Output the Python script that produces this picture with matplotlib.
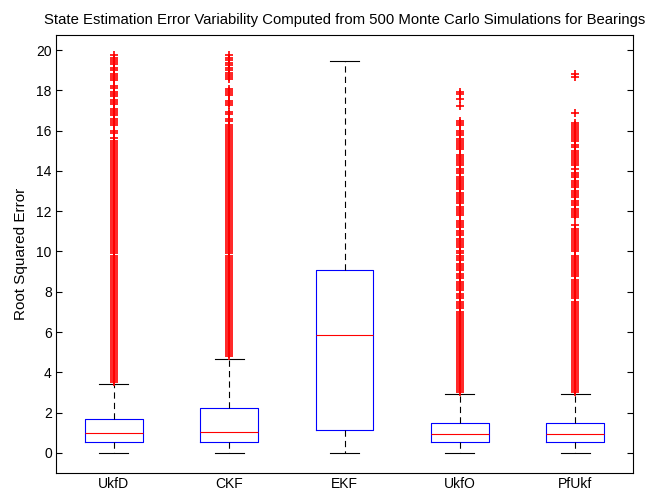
import matplotlib
matplotlib.use("Agg")
import matplotlib.pyplot as plt

# filters compared
names = ['UkfD', 'CKF', 'EKF', 'UkfO', 'PfUkf']

# box statistics
q1 = [0.55, 0.55, 1.14, 0.55, 0.55]
med = [0.98, 1.06, 5.86, 0.94, 0.94]
q3 = [1.69, 2.22, 9.08, 1.50, 1.50]
whislo = [0.0, 0.0, 0.0, 0.0, 0.0]
whishi = [3.42, 4.68, 19.45, 2.91, 2.91]

# outliers (dense parts of the columns read as continuous)
ukfd_out = [3.5, 3.6, 3.7, 3.8, 3.9, 4.0, 4.1, 4.2, 4.3, 4.4, 4.5, 4.6, 4.7, 4.8, 4.9,
            5.0, 5.1, 5.2, 5.3, 5.4, 5.5, 5.6, 5.7, 5.8, 5.9, 6.0, 6.1, 6.2, 6.3, 6.4,
            6.5, 6.6, 6.7, 6.8, 6.9, 7.0, 7.1, 7.2, 7.3, 7.4, 7.5, 7.6, 7.7, 7.8, 7.9,
            8.0, 8.1, 8.2, 8.3, 8.4, 8.5, 8.6, 8.7, 8.8, 8.9, 9.0, 9.1, 9.2, 9.3, 9.4,
            9.5, 9.6, 9.7, 9.8, 9.9, 10.0, 10.1, 10.2, 10.3, 10.4, 10.5, 10.6, 10.7, 10.8,
            10.9, 11.0, 11.1, 11.2, 11.3, 11.4, 11.5, 11.6, 11.7, 11.8, 11.9, 12.0, 12.1,
            12.2, 12.3, 12.4, 12.5, 12.6, 12.7, 12.8, 12.9, 13.0, 13.1, 13.2, 13.3, 13.4,
            13.5, 13.6, 13.7, 13.8, 13.9, 14.0, 14.1, 14.2, 14.3, 14.4, 14.5, 14.6, 14.7,
            14.8, 14.9, 15.0, 15.1, 15.2, 15.3, 15.4, 15.5,
            15.65, 15.9, 16.0, 16.3, 16.4, 16.5, 16.6, 16.8, 16.9, 17.0, 17.1, 17.3, 17.4,
            17.5, 17.7, 17.8, 17.9, 18.1, 18.2, 18.5, 18.6, 18.7, 18.8, 19.0, 19.1, 19.3,
            19.4, 19.5, 19.6, 19.75]
ckf_out = [4.8, 4.9, 5.0, 5.1, 5.2, 5.3, 5.4, 5.5, 5.6, 5.7, 5.8, 5.9, 6.0, 6.1, 6.2,
           6.3, 6.4, 6.5, 6.6, 6.7, 6.8, 6.9, 7.0, 7.1, 7.2, 7.3, 7.4, 7.5, 7.6, 7.7,
           7.8, 7.9, 8.0, 8.1, 8.2, 8.3, 8.4, 8.5, 8.6, 8.7, 8.8, 8.9, 9.0, 9.1, 9.2,
           9.3, 9.4, 9.5, 9.6, 9.7, 9.8, 9.9, 10.0, 10.1, 10.2, 10.3, 10.4, 10.5, 10.6,
           10.7, 10.8, 10.9, 11.0, 11.1, 11.2, 11.3, 11.4, 11.5, 11.6, 11.7, 11.8, 11.9,
           12.0, 12.1, 12.2, 12.3, 12.4, 12.5, 12.6, 12.7, 12.8, 12.9, 13.0, 13.1, 13.2,
           13.3, 13.4, 13.5, 13.6, 13.7, 13.8, 13.9, 14.0, 14.1, 14.2, 14.3, 14.4, 14.5,
           14.6, 14.7, 14.8, 14.9, 15.0, 15.1, 15.2, 15.3, 15.4, 15.5, 15.6, 15.7, 15.8,
           15.9, 16.0, 16.1, 16.2, 16.3,
           16.5, 16.6, 16.85, 16.95, 17.25, 17.35, 17.45, 17.75, 17.85, 17.95, 18.05,
           18.55, 18.65, 18.75, 18.85, 19.0, 19.1, 19.25, 19.35, 19.5, 19.6, 19.75]
ekf_out = []
ukfo_out = [3.0, 3.1, 3.2, 3.3, 3.4, 3.5, 3.6, 3.7, 3.8, 3.9, 4.0, 4.1, 4.2, 4.3, 4.4,
            4.5, 4.6, 4.7, 4.8, 4.9, 5.0, 5.1, 5.2, 5.3, 5.4, 5.5, 5.6, 5.7, 5.8, 5.9,
            6.0, 6.1, 6.2, 6.3, 6.4, 6.5,
            6.6, 6.7, 6.8, 6.9, 7.0, 7.2, 7.3, 7.4, 7.5, 7.7, 7.8, 7.9, 8.1, 8.2, 8.3,
            8.4, 8.5, 8.7, 8.8, 8.9, 9.1, 9.2, 9.3, 9.4, 9.6, 9.7, 9.8, 9.9, 10.0, 10.2,
            10.3, 10.4, 10.5, 10.6, 10.8, 10.9, 11.0, 11.2, 11.3, 11.4, 11.5, 11.8, 11.9,
            12.0, 12.1, 12.2, 12.4, 12.5, 12.6, 12.7, 12.8, 12.9, 13.1, 13.2, 13.3, 13.4,
            13.5, 13.6, 13.7, 13.9, 14.0, 14.1, 14.3, 14.4, 14.5, 14.6, 14.7, 14.8, 15.1,
            15.2, 15.3, 15.4, 15.5, 15.6, 15.8, 15.9, 16.0, 16.3, 16.4, 16.5,
            17.2, 17.55, 17.8, 17.9]
pfukf_out = [3.0, 3.1, 3.2, 3.3, 3.4, 3.5, 3.6, 3.7, 3.8, 3.9, 4.0, 4.1, 4.2, 4.3, 4.4,
             4.5, 4.6, 4.7, 4.8, 4.9, 5.0, 5.1, 5.2, 5.3, 5.4, 5.5, 5.6, 5.7, 5.8, 5.9,
             6.0, 6.1, 6.2, 6.3, 6.4, 6.5, 6.6, 6.7,
             6.8, 6.9, 7.0, 7.1, 7.2, 7.3, 7.4, 7.5, 7.7, 7.8, 7.9, 8.0, 8.1, 8.2, 8.3,
             8.4, 8.5, 8.6, 8.8, 8.9, 9.0, 9.1, 9.2, 9.3, 9.4, 9.5, 9.6, 9.7, 9.8, 10.0,
             10.1, 10.2, 10.3, 10.4, 10.5, 10.6, 10.7, 10.8, 10.9, 11.0, 11.1, 11.3,
             11.7, 11.8, 11.9, 12.0, 12.1, 12.3, 12.4, 12.5, 12.7, 12.8, 12.9, 13.0,
             13.2, 13.3, 13.4, 13.5, 13.7, 13.8, 13.9, 14.1, 14.3, 14.4, 14.5, 14.6,
             14.7, 14.8, 14.9, 15.0, 15.2, 15.3, 15.5, 15.6, 15.7, 15.8, 15.9, 16.0,
             16.1, 16.2, 16.3, 16.4,
             16.87, 18.67, 18.8]
outliers = [ukfd_out, ckf_out, ekf_out, ukfo_out, pfukf_out]

plt.rcParams['font.family'] = ['Liberation Sans', 'DejaVu Sans']
plt.rcParams['lines.scale_dashes'] = False

fig = plt.figure(figsize=(6.46, 4.91), dpi=100)
ax = fig.add_axes([56 / 646, 18 / 491, 577 / 646, 438 / 491])

stats = []
for i in range(len(names)):
    stats.append({'label': names[i], 'q1': q1[i], 'med': med[i], 'q3': q3[i],
                  'whislo': whislo[i], 'whishi': whishi[i], 'fliers': outliers[i]})

ax.bxp(stats, positions=range(1, len(names) + 1), widths=0.5,
       boxprops=dict(color='blue', linewidth=0.8),
       medianprops=dict(color='red', linewidth=0.8),
       whiskerprops=dict(color='black', linewidth=0.8, linestyle=(0, (4.5, 3))),
       capprops=dict(color='black', linewidth=0.8),
       capwidths=0.25,
       flierprops=dict(marker='+', markeredgecolor='red', markersize=5.5,
                       markeredgewidth=1.2, linestyle='none'))

ax.set_xlim(0.5, 5.5)
ax.set_ylim(-1, 20.75)
ax.set_yticks(range(0, 21, 2))
ax.tick_params(axis='y', direction='in', length=4, width=0.8, right=True,
               labelsize=10, pad=3)
ax.tick_params(axis='x', length=0, labelsize=10, pad=3)
for sp in ax.spines.values():
    sp.set_linewidth(0.8)

ax.set_ylabel('Root Squared Error', fontsize=11, labelpad=6)
ax.set_title('State Estimation Error Variability Computed from 500 Monte Carlo Simulations for Bearings',
             fontsize=10.7, pad=8)

fig.savefig('out.png', dpi=100)
